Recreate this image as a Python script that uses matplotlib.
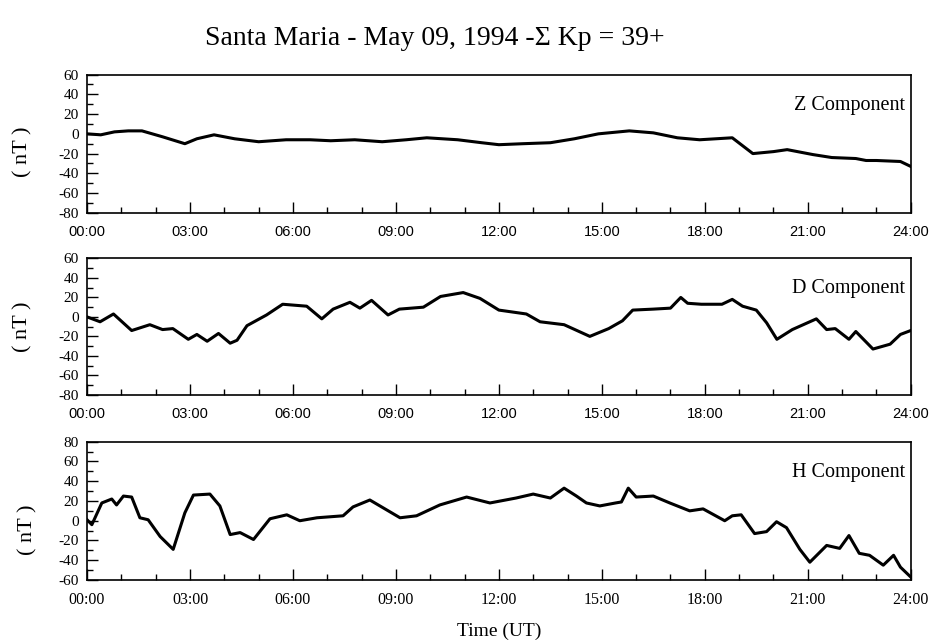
import numpy as np
import matplotlib
matplotlib.use("Agg")
import matplotlib.pyplot as plt
from matplotlib.ticker import MultipleLocator, FuncFormatter

plt.rcParams['axes.unicode_minus'] = False

# hours (UT) and field values (nT)
z_hours = [0, 0.4, 0.8, 1.2, 1.6, 2.2, 2.85, 3.2, 3.7, 4.3, 5.0, 5.8, 6.5, 7.1, 7.8,
           8.6, 9.3, 9.9, 10.8, 11.5, 12.0, 12.7, 13.5, 14.2, 14.9, 15.8, 16.5, 17.2,
           17.85, 18.8, 19.1, 19.4, 20.0, 20.4, 21.15, 21.7, 22.4, 22.7, 23.0, 23.7, 24.0]
z_vals = [0, -1, 2, 3, 3, -3, -10, -5, -1, -5, -8, -6, -6, -7, -6,
          -8, -6, -4, -6, -9, -11, -10, -9, -5, 0, 3, 1, -4,
          -6, -4, -12, -20, -18, -16, -21, -24, -25, -27, -27, -28, -33]

d_hours = [0, 0.38, 0.77, 1.3, 1.83, 2.2, 2.5, 2.95, 3.2, 3.5, 3.83, 4.17, 4.37, 4.66,
           5.23, 5.7, 6.4, 6.84, 7.17, 7.66, 7.95, 8.29, 8.77, 9.1, 9.8, 10.3, 10.96,
           11.45, 12.0, 12.8, 13.2, 13.9, 14.65, 15.2, 15.6, 15.9, 16.5, 17.0, 17.3,
           17.5, 17.9, 18.5, 18.8, 19.1, 19.5, 19.8, 20.1, 20.55, 21.25, 21.55, 21.8,
           22.2, 22.4, 22.9, 23.4, 23.7, 24.0]
d_vals = [0, -5, 3, -14, -8, -13, -12, -23, -18, -25, -17, -27, -24, -9,
          2, 13, 11, -2, 8, 15, 9, 17, 2, 8, 10, 21, 25,
          19, 7, 3, -5, -8, -20, -12, -4, 7, 8, 9, 20,
          14, 13, 13, 18, 11, 7, -6, -23, -13, -2, -13, -12,
          -23, -15, -33, -28, -18, -14]

h_hours = [0, 0.14, 0.43, 0.72, 0.86, 1.06, 1.3, 1.54, 1.78, 2.13, 2.51, 2.85, 3.1,
           3.58, 3.87, 4.17, 4.46, 4.85, 5.33, 5.82, 6.2, 6.7, 7.46, 7.75, 8.24, 9.12,
           9.6, 10.28, 11.06, 11.74, 12.5, 13.0, 13.5, 13.9, 14.26, 14.55, 14.94, 15.4,
           15.57, 15.77, 16.0, 16.5, 16.98, 17.56, 17.95, 18.58, 18.8, 19.06, 19.45,
           19.8, 20.09, 20.38, 20.77, 21.06, 21.55, 21.93, 22.2, 22.5, 22.8, 23.2,
           23.5, 23.7, 24.0]
h_vals = [1, -4, 18, 22, 16, 25, 24, 3, 1, -16, -29, 8, 26,
          27, 15, -14, -12, -19, 2, 6, 0, 3, 5, 14, 21, 3,
          5, 16, 24, 18, 23, 27, 23, 33, 25, 18, 15, 18,
          19, 33, 24, 25, 18, 10, 12, 0, 5, 6, -13,
          -11, -1, -7, -29, -42, -25, -28, -15, -33, -35, -45,
          -35, -47, -57]

x_ticks = [0, 3, 6, 9, 12, 15, 18, 21, 24]
x_labels = ['00:00', '03:00', '06:00', '09:00', '12:00', '15:00', '18:00', '21:00', '24:00']

panels = [
    ('Z Component', z_hours, z_vals, (-80, 60), 'Liberation Sans', 10.5, 0.44, -0.066),
    ('D Component', d_hours, d_vals, (-80, 60), 'Liberation Sans', 10.5, 0.50, -0.066),
    ('H Component', h_hours, h_vals, (-60, 80), 'Liberation Serif', 11.5, 0.36, -0.060),
]
# [left, bottom, width, height] in figure fractions
boxes = [[0.093, 0.669, 0.880, 0.215],
         [0.093, 0.386, 0.880, 0.212],
         [0.093, 0.098, 0.880, 0.215]]

fig = plt.figure(figsize=(9.36, 6.43), dpi=100)
fig.text(0.465, 0.940, 'Santa Maria - May 09, 1994 -\u03a3 Kp = 39+',
         ha='center', va='center', family='Liberation Serif', fontsize=20)

for (name, hrs, vals, ylim, xfont, xsize, ly, lx), box in zip(panels, boxes):
    ax = fig.add_axes(box)
    ax.plot(hrs, vals, color='black', lw=2.2)
    ax.set_xlim(0, 24)
    ax.set_ylim(*ylim)
    ax.xaxis.set_minor_locator(MultipleLocator(1))
    ax.yaxis.set_major_locator(MultipleLocator(20))
    ax.yaxis.set_minor_locator(MultipleLocator(10))
    ax.set_xticks(x_ticks)
    ax.set_xticklabels(x_labels, family=xfont, fontsize=xsize)
    ax.yaxis.set_major_formatter(FuncFormatter(lambda v, p: '%d' % v))
    for lab in ax.get_yticklabels():
        lab.set_family('Liberation Serif')
        lab.set_fontsize(11)
    ax.tick_params(which='major', direction='in', length=8, width=1)
    ax.tick_params(which='minor', direction='in', length=4, width=1)
    ax.tick_params(axis='y', which='both', pad=6)
    ax.tick_params(axis='x', which='both', pad=9)
    for sp in ax.spines.values():
        sp.set_linewidth(1.2)
    ax.set_ylabel('( nT )', family='Liberation Serif', fontsize=16)
    ax.yaxis.set_label_coords(lx, ly)
    ax.text(0.993, 0.78, name, transform=ax.transAxes, ha='right', va='center',
            family='Liberation Serif', fontsize=14.5)

ax.set_xlabel('Time (UT)', family='Liberation Serif', fontsize=14, labelpad=10)

fig.savefig('out.png', dpi=100)
